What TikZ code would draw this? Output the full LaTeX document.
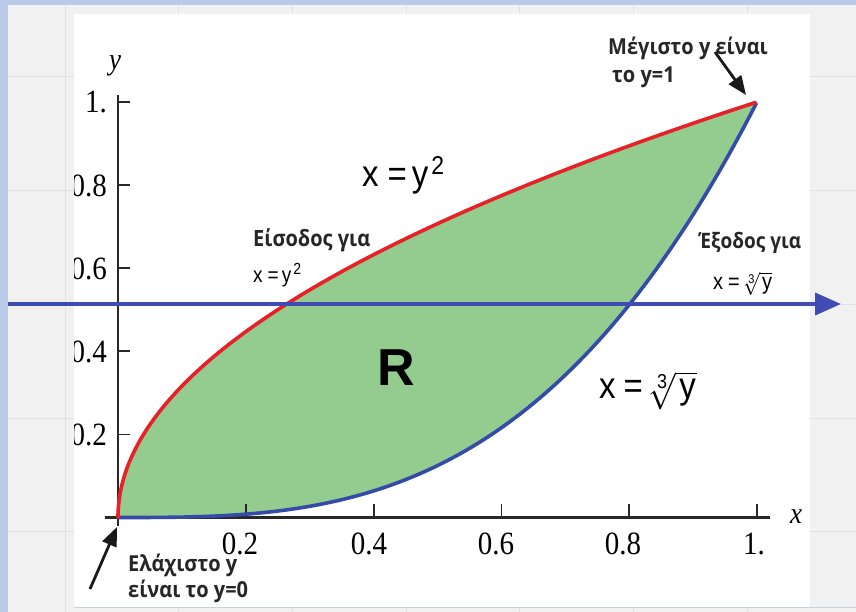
\documentclass[tikz,border=0pt]{standalone}
\usepackage{fix-cm}
\usepackage{fontspec}
\usepackage{graphicx}
\usetikzlibrary{arrows.meta}
\newfontfamily\grfont{Open Sans}
\newfontfamily\arfont{Liberation Sans}
\newfontfamily\tmfont{Liberation Serif}
\definecolor{bgblue}{RGB}{185,203,233}
\definecolor{bggray}{RGB}{241,241,241}
\definecolor{gridc}{RGB}{226,226,228}
\definecolor{panelline}{RGB}{200,208,224}
\definecolor{regfill}{RGB}{148,204,143}
\definecolor{curvered}{RGB}{232,32,40}
\definecolor{curveblue}{RGB}{52,76,168}
\definecolor{arrblue}{RGB}{62,76,180}
\definecolor{axisc}{RGB}{40,40,40}
\newcommand{\vs}[2][1.12]{\scalebox{1}[#1]{#2}}
\tikzset{
  lbl/.style={font=\grfont\bfseries\fontsize{20}{24}\selectfont, text=black!85, inner sep=0pt},
  eqbig/.style={font=\arfont\fontsize{33}{36}\selectfont, inner sep=0pt},
  eqsmall/.style={font=\arfont\fontsize{19}{20}\selectfont, inner sep=0pt},
  ticklbl/.style={font=\tmfont\fontsize{29}{29}\selectfont, inner sep=0pt},
  axlbl/.style={font=\tmfont\itshape\fontsize{27}{27}\selectfont, inner sep=0pt},
  pointer/.style={line width=2.8pt, black!90, -{Triangle[length=19pt,width=15pt]}},
}
\begin{document}
\begin{tikzpicture}[x=1pt,y=-1pt]
\useasboundingbox (0,0) rectangle (856,612);
% background
\fill[bgblue] (0,0) rectangle (856,612);
\fill[bggray] (8,5) rectangle (856,612);
\foreach \gx in {65,178.7,292.4,406.1,519.8,633.5,747.2}
  \draw[gridc, line width=1pt] (\gx,5) -- (\gx,612);
\foreach \gy in {77,190.7,304.4,418.1,531.8}
  \draw[gridc, line width=1pt] (8,\gy) -- (856,\gy);
\fill[white] (74,14) rectangle (810,607);
\draw[panelline, line width=1.2pt] (74,607.5) -- (856,607.5);
% data scope
\begin{scope}[shift={(118,517.5)}, x=639pt, y=415.5pt]
  \coordinate (orig) at (0,0);
  \coordinate (top) at (1,1);
  \fill[regfill] plot[domain=0:1, samples=120, smooth] ({\x*\x},\x)
     -- plot[domain=1:0, samples=120, smooth] (\x,{\x*\x*\x}) -- cycle;
  % axes
  \draw[axisc, line width=2.4pt] (-0.02,0) -- (1.02,0);
  \draw[axisc, line width=2.4pt] (0,-0.02) -- (0,1.017);
  \foreach \t in {0.2,0.4,0.6,0.8,1}
    \draw[axisc, line width=1.8pt] (\t,0) -- ++(0pt,14pt);
  \foreach \t in {0.2,0.4,0.6,0.8,1}
    \draw[axisc, line width=1.8pt] (0,\t) -- ++(12pt,0pt);
  % curves
  \draw[curveblue, line width=3.6pt, line cap=round] plot[domain=0:1, samples=120, smooth] (\x,{\x*\x*\x});
  \draw[curvered, line width=3.6pt, line cap=round] plot[domain=0:1, samples=120, smooth] ({\x*\x},\x);
\end{scope}
% tick labels
\begin{scope}
  \clip (74,14) rectangle (810,607);
  \node[ticklbl, anchor=east] (ty1) at (107,102.5) {\vs{1.}};
  \node[ticklbl, anchor=east] (ty8) at (107,186) {\vs{0.8}};
  \node[ticklbl, anchor=east] (ty6) at (107,269) {\vs{0.6}};
  \node[ticklbl, anchor=east] (ty4) at (107,352) {\vs{0.4}};
  \node[ticklbl, anchor=east] (ty2) at (107,435) {\vs{0.2}};
\end{scope}
\node[ticklbl, anchor=north] (tx2) at (240,533) {\vs{0.2}};
\node[ticklbl, anchor=north] (tx4) at (369,533) {\vs{0.4}};
\node[ticklbl, anchor=north] (tx6) at (496,533) {\vs{0.6}};
\node[ticklbl, anchor=north] (tx8) at (623,533) {\vs{0.8}};
\node[ticklbl, anchor=north] (tx10) at (754,533) {\vs{1.}};
\node[axlbl] (ylab) at (115,66) {\vs{y}};
\node[axlbl] (xlab) at (796,517) {\vs{x}};
% horizontal arrow
\coordinate (hstart) at (8,304);
\coordinate (hend) at (841,304);
\draw[arrblue, line width=3.8pt, -{Triangle[length=26pt,width=22pt]}] (hstart) -- (hend);
% equations
\node[eqbig, anchor=base west] (eq1) at (362,187) {\vs{x\hspace{9pt}=\hspace{5pt}y\hspace{3pt}\raisebox{11pt}{\fontsize{23}{23}\selectfont 2}}};
\node[font=\arfont\bfseries\fontsize{52}{52}\selectfont, inner sep=0pt, anchor=base] (R) at (396,385) {R};
\node[eqbig, anchor=base west] (eq2) at (599,398) {\vs{x\hspace{8pt}=\hspace{5pt}$\sqrt[\mbox{\fontsize{18}{18}\selectfont 3}]{\mbox{\hspace{3pt}y\hspace{1pt}}}$}};
% labels
\node[lbl, anchor=base west] (l1) at (253,247) {\vs[1.12]{Είσοδος για}};
\node[eqsmall, anchor=base west] (l1e) at (253,283) {\vs[1.15]{x\hspace{5pt}=\hspace{3pt}y\hspace{2pt}\raisebox{7pt}{\fontsize{14}{14}\selectfont 2}}};
\node[lbl, anchor=base west, font=\grfont\bfseries\fontsize{19}{22}\selectfont] (l2) at (699,249) {\vs[1.12]{Έξοδος για}};
\node[eqsmall, anchor=base west, font=\arfont\fontsize{20}{22}\selectfont] (l2e) at (713,289) {\vs[1.15]{x\hspace{5pt}=\hspace{3pt}$\sqrt[\mbox{\fontsize{11}{11}\selectfont 3}]{\mbox{\hspace{2pt}y}}$}};
\node[lbl, anchor=base west] (l3a) at (608,55) {\vs[1.1]{Μέγιστο y είναι}};
\node[lbl, anchor=base west] (l3b) at (612,83) {\vs[1.1]{το y=1}};
\node[lbl, anchor=base west] (l4a) at (128,571) {\vs[1.1]{Ελάχιστο y}};
\node[lbl, anchor=base west] (l4b) at (128,597) {\vs[1.1]{είναι το y=0}};
% pointers
\coordinate (p1) at (715,52);
\coordinate (p1e) at (746,95);
\draw[pointer] (p1) -- (p1e);
\coordinate (p2) at (90,589);
\coordinate (p2e) at (117,527);
\draw[pointer] (p2) -- (p2e);
\end{tikzpicture}
\end{document}
